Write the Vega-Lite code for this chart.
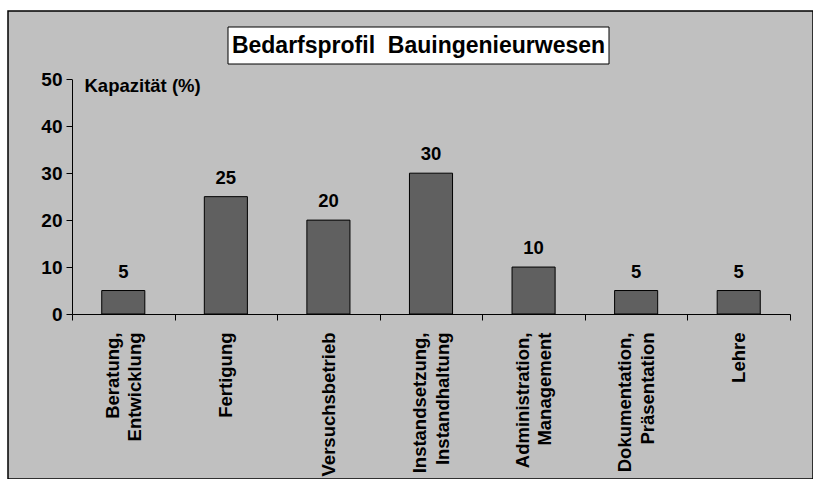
{
  "$schema": "https://vega.github.io/schema/vega-lite/v6.json",
  "width": 805,
  "height": 468,
  "autosize": {"type": "none"},
  "padding": {"left": 8, "top": 11, "right": 0, "bottom": 0},
  "background": "white",
  "config": {
    "view": {"fill": "#c0c0c0", "stroke": "black", "strokeWidth": 1.5},
    "font": "Liberation Sans",
    "axis": {"domainColor": "black", "tickColor": "black", "labelColor": "black", "titleColor": "black", "grid": false}
  },
  "data": {
    "values": [
      {"Taetigkeit": "Beratung,\nEntwicklung", "Kapazitaet": 5},
      {"Taetigkeit": "Fertigung", "Kapazitaet": 25},
      {"Taetigkeit": "Versuchsbetrieb", "Kapazitaet": 20},
      {"Taetigkeit": "Instandsetzung,\nInstandhaltung", "Kapazitaet": 30},
      {"Taetigkeit": "Administration,\nManagement", "Kapazitaet": 10},
      {"Taetigkeit": "Dokumentation,\nPräsentation", "Kapazitaet": 5},
      {"Taetigkeit": "Lehre", "Kapazitaet": 5}
    ]
  },
  "encoding": {
    "x": {
      "field": "Taetigkeit",
      "type": "nominal",
      "sort": null,
      "scale": {"range": [64, 782], "paddingInner": 0, "paddingOuter": 0},
      "axis": {
        "title": null,
        "orient": "bottom",
        "offset": -165,
        "tickBand": "extent",
        "tickSize": 6,
        "labelAngle": -90,
        "labelAlign": "right",
        "labelBaseline": "middle",
        "labelPadding": 12,
        "labelFontSize": 18.5,
        "labelFontWeight": "bold",
        "labelLineHeight": 22.5,
        "labelOffset": {"expr": "(isValid(datum) && isString(datum.value) && indexof(datum.value, '\\n') >= 0) ? -11.25 : 0"},
        "labelOverlap": false,
        "labelLimit": 400,
        "labelExpr": "split(datum.label, '\\n')"
      }
    },
    "y": {
      "field": "Kapazitaet",
      "type": "quantitative",
      "scale": {"domain": [0, 50], "range": [303, 68.3], "nice": false, "zero": false},
      "axis": {
        "orient": "left",
        "offset": -64,
        "values": [0, 10, 20, 30, 40, 50],
        "tickSize": 6,
        "labelPadding": 4,
        "labelFontSize": 19,
        "labelFontWeight": "bold",
        "title": "Kapazität (%)",
        "titleFontSize": 18.5,
        "titleFontWeight": "bold",
        "titleAngle": 0,
        "titleAlign": "left",
        "titleBaseline": "middle",
        "titleX": 12,
        "titleY": 74.5
      }
    }
  },
  "layer": [
    {
      "mark": {"type": "bar", "width": {"band": 0.42}, "fill": "#606060", "stroke": "black", "strokeWidth": 1}
    },
    {
      "mark": {"type": "text", "baseline": "alphabetic", "dy": -13, "fontSize": 18.5, "fontWeight": "bold", "color": "black"},
      "encoding": {"text": {"field": "Kapazitaet", "type": "quantitative"}}
    },
    {
      "data": {"values": [{"Titel": "Bedarfsprofil\u00a0\u00a0Bauingenieurwesen", "Pos": 57.2}]},
      "mark": {"type": "point", "shape": "M-1,-0.0971H1V0.0971H-1Z", "size": 145161, "filled": true, "fill": "white", "stroke": "black", "strokeWidth": 1, "opacity": 1, "xOffset": 8},
      "encoding": {"x": null, "y": {"field": "Pos", "type": "quantitative"}}
    },
    {
      "data": {"values": [{"Titel": "Bedarfsprofil\u00a0\u00a0Bauingenieurwesen", "Pos": 57.2}]},
      "mark": {"type": "text", "baseline": "middle", "align": "center", "fontSize": 23, "fontWeight": "bold", "color": "black", "xOffset": 8},
      "encoding": {"x": null, "y": {"field": "Pos", "type": "quantitative"}, "text": {"field": "Titel"}}
    }
  ]
}
